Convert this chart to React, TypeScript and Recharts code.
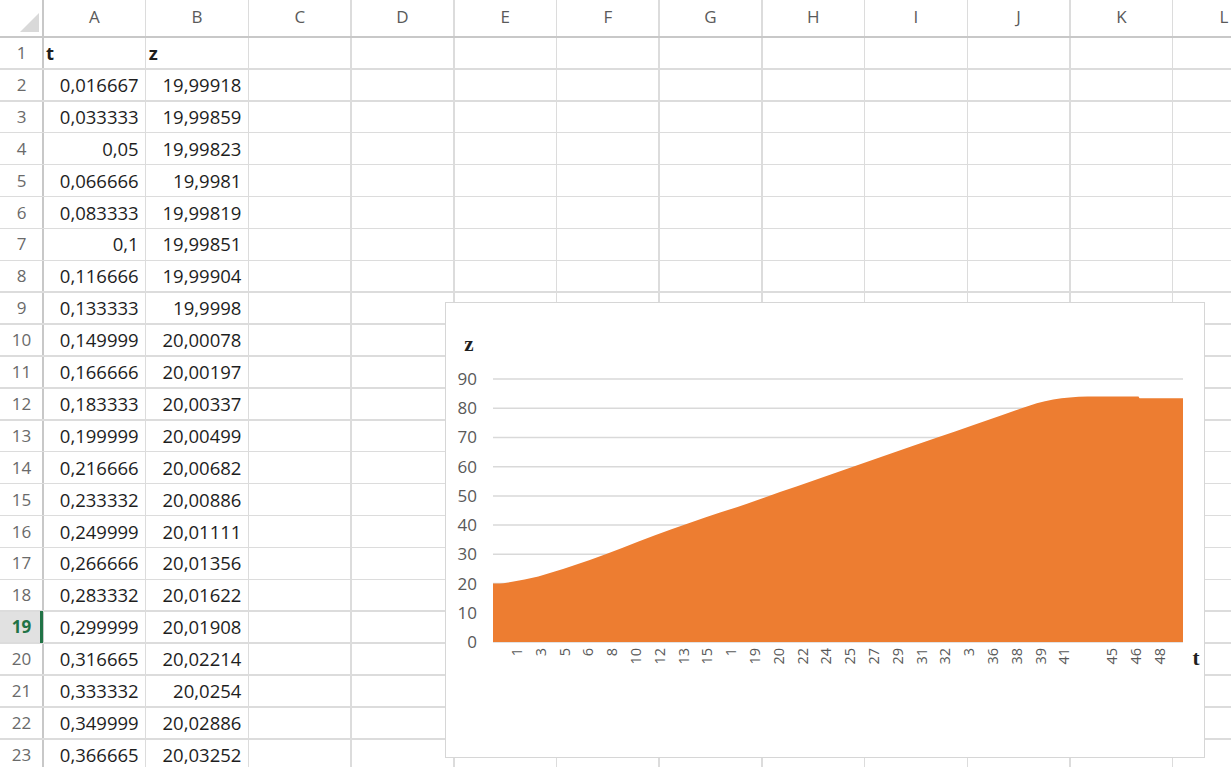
import React from "react";
import { AreaChart, Area, XAxis, YAxis, CartesianGrid } from "recharts";

// ---- spreadsheet content ----
const columnLetters = ["A", "B", "C", "D", "E", "F", "G", "H", "I", "J", "K", "L"];
const tColumn = [
  "0,016667", "0,033333", "0,05", "0,066666", "0,083333", "0,1", "0,116666", "0,133333",
  "0,149999", "0,166666", "0,183333", "0,199999", "0,216666", "0,233332", "0,249999",
  "0,266666", "0,283332", "0,299999", "0,316665", "0,333332", "0,349999", "0,366665",
];
const zColumn = [
  "19,99918", "19,99859", "19,99823", "19,9981", "19,99819", "19,99851", "19,99904", "19,9998",
  "20,00078", "20,00197", "20,00337", "20,00499", "20,00682", "20,00886", "20,01111",
  "20,01356", "20,01622", "20,01908", "20,02214", "20,0254", "20,02886", "20,03252",
];

// ---- chart data ----
const curveT = [0, 0.5, 1.0, 1.5, 2.3, 3.3, 4.5, 5.7, 7.0, 8.2, 10.6, 13.0, 15.5, 18.5, 20.9, 23.3, 25.8, 28.2, 30.5, 32.3, 35.0, 37.1, 38.5, 39.6, 40.8, 42.0, 43.3, 47.0, 47.1, 50.25];
const curveZ = [20, 20.05, 20.3, 20.7, 21.4, 22.4, 24.1, 25.9, 28.0, 30.0, 34.4, 38.6, 42.7, 47.3, 51.3, 55.2, 59.3, 63.2, 67.0, 69.9, 74.3, 77.7, 80.0, 81.7, 83.0, 83.7, 84.0, 84.0, 83.4, 83.4];
const tickT = [1.7333, 3.4667, 5.2, 6.9333, 8.6667, 10.4, 12.1333, 13.8667, 15.6, 17.3333, 19.0667, 20.8, 22.5333, 24.2667, 26.0, 27.7333, 29.4667, 31.2, 32.9333, 34.6667, 36.4, 38.1333, 39.8667, 41.6, 43.3333, 45.0667, 46.8, 48.5333];
const tickLabels = ["1", "3", "5", "6", "8", "10", "12", "13", "15", "1", "19", "20", "22", "24", "25", "27", "29", "31", "32", "3", "36", "38", "39", "41", "", "45", "46", "48"];
const yTicks = [0, 10, 20, 30, 40, 50, 60, 70, 80, 90];

const chartData = curveT.map((t, i) => ({ t, z: curveZ[i] }));

const ROWHDR_W = 43;
const COL_W = 102.7;
const HDR_H = 37;
const ROW_H = 31.9;
const SHEET_FONT = "'Open Sans', 'Noto Sans', sans-serif";
const GRID = "#dcdcdc";

function XTick(props: any) {
  const { x, y, payload } = props;
  const idx = tickT.indexOf(payload.value);
  const label = idx >= 0 ? tickLabels[idx] : "";
  return (
    <text
      x={x}
      y={y}
      transform={`rotate(-90, ${x}, ${y})`}
      textAnchor="end"
      dy="0.36em"
      fontSize={14.5}
      fill="#595959"
      fontFamily={SHEET_FONT}
    >
      {label}
    </text>
  );
}

function Sheet() {
  const els: React.ReactNode[] = [];
  const totalRows = 23;
  // header background
  els.push(<div key="hdrbg" style={{ position: "absolute", left: 0, top: 0, width: 1231, height: HDR_H, background: "#ffffff" }} />);
  // row 19 highlight
  const r19Top = HDR_H + 18 * ROW_H;
  els.push(<div key="r19bg" style={{ position: "absolute", left: 0, top: r19Top, width: ROWHDR_W, height: ROW_H, background: "#e1e1e1" }} />);
  // vertical gridlines
  for (let k = 0; k <= 12; k++) {
    const x = ROWHDR_W + k * COL_W;
    els.push(<div key={"v" + k} style={{ position: "absolute", left: x - 0.75, top: 0, width: k === 0 ? 2 : 1.5, height: 767, background: k === 0 ? "#c8c8c8" : GRID }} />);
  }
  // horizontal gridlines
  for (let r = 0; r <= totalRows; r++) {
    const y = HDR_H + r * ROW_H;
    els.push(<div key={"h" + r} style={{ position: "absolute", left: 0, top: y - 0.75, width: 1231, height: r === 0 ? 2 : 1.5, background: r === 0 ? "#c8c8c8" : GRID }} />);
  }
  // green selection bar on row 19 header
  els.push(<div key="r19bar" style={{ position: "absolute", left: ROWHDR_W - 3, top: r19Top, width: 3, height: ROW_H, background: "#217346" }} />);
  // corner triangle
  els.push(
    <svg key="corner" style={{ position: "absolute", left: 0, top: 0 }} width={ROWHDR_W} height={HDR_H}>
      <polygon points="20,32 39,32 39,13" fill="#d9d9d9" />
    </svg>
  );
  // column letters
  columnLetters.forEach((c, k) => {
    els.push(
      <div key={"cl" + c} style={{ position: "absolute", left: ROWHDR_W + k * COL_W, top: 0, width: COL_W, height: HDR_H, lineHeight: HDR_H - 4 + "px", textAlign: "center", color: "#5a5a5a", fontSize: 17, fontFamily: SHEET_FONT }}>{c}</div>
    );
  });
  // row numbers
  for (let r = 1; r <= totalRows; r++) {
    const top = HDR_H + (r - 1) * ROW_H;
    const sel = r === 19;
    els.push(
      <div key={"rn" + r} style={{ position: "absolute", left: 0, top, width: ROWHDR_W, height: ROW_H, lineHeight: ROW_H + "px", textAlign: "center", color: sel ? "#217346" : "#6a6a6a", fontWeight: sel ? 700 : 400, fontSize: 17, fontFamily: SHEET_FONT }}>{r}</div>
    );
  }
  // row 1 headers
  const cellText = (key: string, col: number, row: number, text: string, align: "left" | "right", bold = false) => (
    <div key={key} style={{ position: "absolute", left: ROWHDR_W + col * COL_W + 3, top: HDR_H + (row - 1) * ROW_H, width: COL_W - 10, height: ROW_H, lineHeight: ROW_H + "px", textAlign: align, color: "#1e1e1e", fontSize: 18.5, fontWeight: bold ? 700 : 400, fontFamily: SHEET_FONT, whiteSpace: "nowrap" }}>{text}</div>
  );
  els.push(cellText("t1", 0, 1, "t", "left", true));
  els.push(cellText("z1", 1, 1, "z", "left", true));
  tColumn.forEach((v, i) => els.push(cellText("ta" + i, 0, i + 2, v, "right")));
  zColumn.forEach((v, i) => els.push(cellText("zb" + i, 1, i + 2, v, "right")));
  return <>{els}</>;
}

export default function App() {
  return (
    <div style={{ position: "absolute", left: 0, top: 0, width: 1231, height: 767, overflow: "hidden", background: "#ffffff" }}>
      <Sheet />
      <div style={{ position: "absolute", left: 445, top: 302, width: 760, height: 456, background: "#ffffff", outline: "1.5px solid #d6d6d6", outlineOffset: "-1px" }}>
        <AreaChart width={760} height={456} data={chartData} margin={{ top: 77, right: 22, left: 0, bottom: 76 }}>
          <CartesianGrid horizontal={true} vertical={false} stroke="#d9d9d9" strokeWidth={1.5} />
          <XAxis
            dataKey="t"
            type="number"
            domain={[0, 50.25]}
            ticks={tickT}
            interval={0}
            axisLine={false}
            tickLine={false}
            tickMargin={0}
            height={40}
            tick={<XTick />}
          />
          <YAxis
            type="number"
            domain={[0, 90]}
            ticks={yTicks}
            interval={0}
            axisLine={false}
            tickLine={false}
            tickMargin={10}
            width={48}
            tick={{ fontSize: 17, fill: "#595959", fontFamily: SHEET_FONT }}
          />
          <Area
            type="monotone"
            dataKey="z"
            stroke="none"
            fill="#ED7D31"
            fillOpacity={1}
            isAnimationActive={false}
          />
        </AreaChart>
        <div style={{ position: "absolute", left: 14, top: 30, width: 20, textAlign: "center", fontFamily: "'Liberation Serif', 'DejaVu Serif', serif", fontWeight: 700, fontSize: 21, color: "#1f1f1f" }}>z</div>
        <div style={{ position: "absolute", left: 741, top: 344, width: 20, textAlign: "center", fontFamily: "'Liberation Serif', 'DejaVu Serif', serif", fontWeight: 700, fontSize: 21, color: "#1f1f1f" }}>t</div>
      </div>
    </div>
  );
}
